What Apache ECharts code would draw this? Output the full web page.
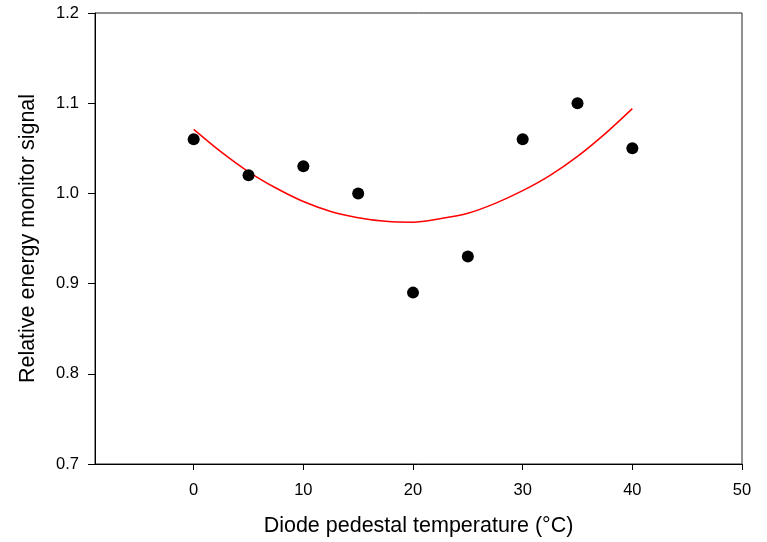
<!DOCTYPE html>
<html>
<head>
<meta charset="utf-8">
<script src="https://cdn.jsdelivr.net/npm/echarts@6/dist/echarts.min.js"></script>
<style>
  html, body { margin: 0; padding: 0; background: #fff; }
  #chart { width: 767px; height: 542px; }
</style>
</head>
<body>
<div id="chart"></div>
<script>
// measured points
var temps = [0, 5, 10, 15, 20, 25, 30, 35, 40]
var signal = [1.06, 1.02, 1.03, 1.00, 0.89, 0.93, 1.06, 1.10, 1.05]

// fitted curve
var fitX = [0, 2.5, 5, 7.5, 10, 12.5, 15, 17.5, 20, 22.5, 25, 27.5, 30, 32.5, 35, 37.5, 40]
var fitY = [1.071, 1.046, 1.024, 1.006, 0.991, 0.980, 0.973, 0.969, 0.968, 0.972,
  0.978, 0.989, 1.003, 1.020, 1.041, 1.066, 1.094]

var xTicks = [0, 10, 20, 30, 40, 50]

var font = 'Liberation Sans, Arial, sans-serif'
var chart = echarts.init(document.getElementById('chart'))

chart.setOption({
  animation: false,
  grid: {
    left: 95, right: 25, top: 13, bottom: 77,
    show: true, borderColor: '#222', borderWidth: 1
  },
  xAxis: {
    type: 'value',
    min: -9, max: 50,
    name: 'Diode pedestal temperature (°C)',
    nameLocation: 'middle',
    nameGap: 51,
    nameTextStyle: { fontFamily: font, fontSize: 21.5, color: '#000' },
    splitLine: { show: false },
    axisLine: { onZero: false, lineStyle: { color: '#000', width: 1 } },
    axisTick: { show: true, length: 6, customValues: xTicks, lineStyle: { color: '#000' } },
    axisLabel: {
      customValues: xTicks, margin: 18,
      fontFamily: font, fontSize: 16.5, color: '#000'
    }
  },
  yAxis: {
    type: 'value',
    min: 0.7, max: 1.2, interval: 0.1,
    name: 'Relative energy monitor signal',
    nameLocation: 'middle',
    nameGap: 56,
    nameTextStyle: { fontFamily: font, fontSize: 21.5, color: '#000' },
    splitLine: { show: false },
    axisLine: { show: true, onZero: false, lineStyle: { color: '#000', width: 1 } },
    axisTick: { show: true, length: 7, lineStyle: { color: '#000' } },
    axisLabel: {
      margin: 16,
      fontFamily: font, fontSize: 16.5, color: '#000',
      formatter: function (v) { return v.toFixed(1) }
    }
  },
  series: [
    {
      type: 'line',
      data: fitX.map(function (x, i) { return [x, fitY[i]] }),
      smooth: 0.3,
      showSymbol: false,
      lineStyle: { color: '#ff0000', width: 1.5 },
      z: 1
    },
    {
      type: 'scatter',
      data: temps.map(function (x, i) { return [x, signal[i]] }),
      symbol: 'circle',
      symbolSize: 12,
      itemStyle: { color: '#000', opacity: 1 },
      z: 2
    }
  ]
})
</script>
</body>
</html>
